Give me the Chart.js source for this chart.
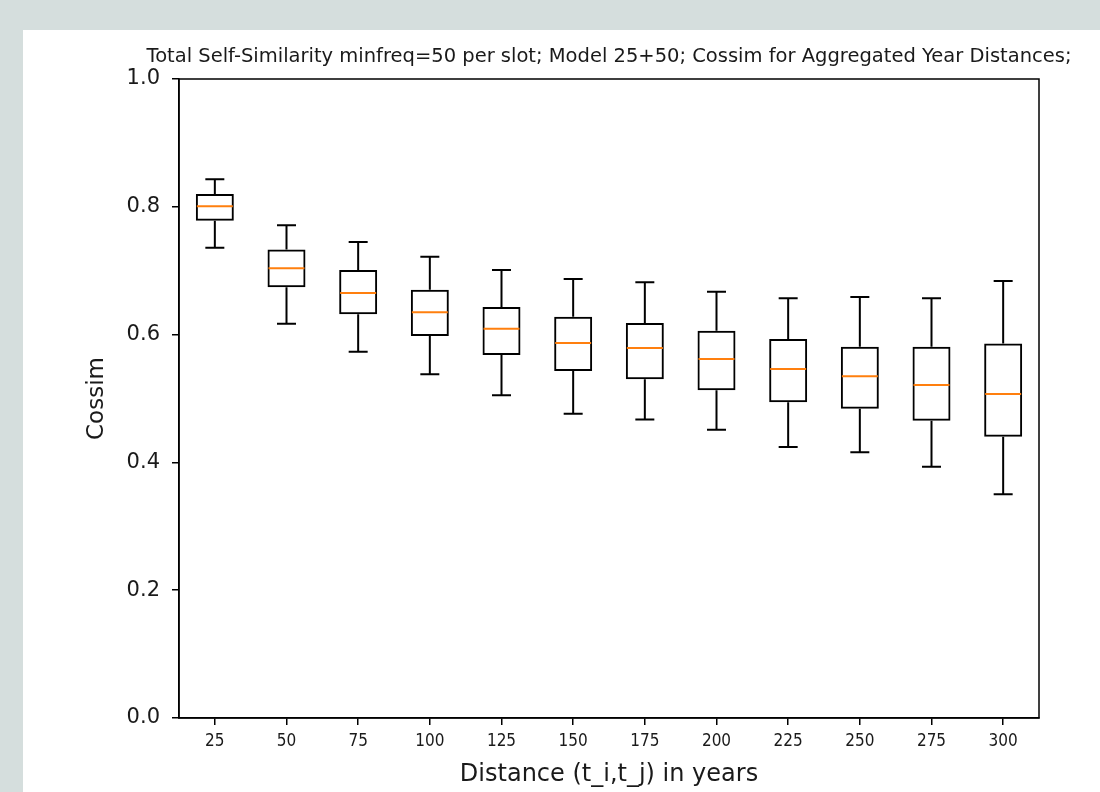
<!DOCTYPE html>
<html>
<head>
<meta charset="utf-8">
<script src="https://cdn.jsdelivr.net/npm/chart.js@4/dist/chart.umd.min.js"></script>
<style>
  html, body { margin: 0; padding: 0; background: #d5dedd; width: 1100px; height: 792px; overflow: hidden; }
  #panel { position: absolute; left: 23px; top: 30px; width: 1077px; height: 762px; background: #fff; }
  canvas { display: block; }
</style>
</head>
<body>
<div id="panel"><canvas id="chart" width="1077" height="762"></canvas></div>
<script>
// ---- data ----
const distances = ["25", "50", "75", "100", "125", "150", "175", "200", "225", "250", "275", "300"];
const whiskerHigh = [0.843, 0.771, 0.745, 0.722, 0.701, 0.687, 0.682, 0.667, 0.657, 0.659, 0.657, 0.684];
const q3 = [0.820, 0.733, 0.701, 0.670, 0.643, 0.628, 0.618, 0.606, 0.593, 0.581, 0.581, 0.586];
const medians = [0.801, 0.704, 0.665, 0.635, 0.609, 0.587, 0.579, 0.562, 0.546, 0.535, 0.521, 0.507];
const q1 = [0.778, 0.674, 0.632, 0.598, 0.568, 0.543, 0.530, 0.513, 0.494, 0.484, 0.465, 0.440];
const whiskerLow = [0.736, 0.617, 0.573, 0.538, 0.505, 0.476, 0.467, 0.451, 0.424, 0.416, 0.393, 0.350];
const yTicks = [0, 0.2, 0.4, 0.6, 0.8, 1.0];

const titleText = "Total Self-Similarity minfreq=50 per slot; Model 25+50; Cossim for Aggregated Year Distances;";
const textColor = "#1a1a1a";

// whiskers, caps, medians, frame and title drawn on top of the box bars
const boxExtras = {
  id: "boxExtras",
  afterDatasetsDraw(chart) {
    const ctx = chart.ctx;
    const xs = chart.scales.x;
    const ys = chart.scales.y;
    const meta = chart.getDatasetMeta(0);
    ctx.save();
    ctx.lineWidth = 2;
    distances.forEach((_, i) => {
      const x = xs.getPixelForValue(i);
      const half = meta.data[i].width / 2;
      const cap = half / 2;
      ctx.strokeStyle = "#000";
      ctx.beginPath();
      ctx.moveTo(x, ys.getPixelForValue(q3[i]));
      ctx.lineTo(x, ys.getPixelForValue(whiskerHigh[i]));
      ctx.moveTo(x - cap, ys.getPixelForValue(whiskerHigh[i]));
      ctx.lineTo(x + cap, ys.getPixelForValue(whiskerHigh[i]));
      ctx.moveTo(x, ys.getPixelForValue(q1[i]));
      ctx.lineTo(x, ys.getPixelForValue(whiskerLow[i]));
      ctx.moveTo(x - cap, ys.getPixelForValue(whiskerLow[i]));
      ctx.lineTo(x + cap, ys.getPixelForValue(whiskerLow[i]));
      ctx.stroke();
      ctx.strokeStyle = "#ff7f0e";
      ctx.beginPath();
      ctx.moveTo(x - half + 1, ys.getPixelForValue(medians[i]));
      ctx.lineTo(x + half - 1, ys.getPixelForValue(medians[i]));
      ctx.stroke();
    });
    ctx.restore();
  },
  afterDraw(chart) {
    const ctx = chart.ctx;
    const a = chart.chartArea;
    ctx.save();
    ctx.strokeStyle = "#000";
    ctx.lineWidth = 1.5;
    ctx.strokeRect(a.left, a.top, a.right - a.left, a.bottom - a.top);
    ctx.fillStyle = textColor;
    ctx.font = "19.5px 'DejaVu Sans'";
    ctx.textAlign = "center";
    ctx.textBaseline = "alphabetic";
    ctx.fillText(titleText, (a.left + a.right) / 2, 32);
    ctx.restore();
  }
};

new Chart(document.getElementById("chart"), {
  type: "bar",
  data: {
    labels: distances,
    datasets: [{
      data: q1.map((v, i) => [v, q3[i]]),
      backgroundColor: "rgba(0,0,0,0)",
      borderColor: "#000",
      borderWidth: 2,
      borderSkipped: false,
      barPercentage: 0.53,
      categoryPercentage: 1
    }]
  },
  options: {
    responsive: false,
    animation: false,
    layout: { padding: { top: 49, right: 61, left: 0, bottom: 0 } },
    plugins: {
      legend: { display: false },
      tooltip: { enabled: false },
      title: { display: false }
    },
    scales: {
      x: {
        grid: { offset: false, drawOnChartArea: false, drawTicks: true, tickLength: 7, color: "#000", lineWidth: 1.5 },
        border: { display: true, color: "#000", width: 1.5 },
        ticks: {
          color: textColor,
          padding: 6,
          maxRotation: 0,
          font: { family: "'DejaVu Sans Condensed', sans-serif", size: 17 }
        },
        title: {
          display: true,
          text: "Distance (t_i,t_j) in years",
          color: textColor,
          font: { family: "'DejaVu Sans'", size: 24 },
          padding: { top: 0, bottom: 3 }
        },
        afterFit(scale) { scale.height = 74; }
      },
      y: {
        min: 0,
        max: 1,
        afterBuildTicks(scale) { scale.ticks = yTicks.map(v => ({ value: v })); },
        grid: { drawOnChartArea: false, drawTicks: true, tickLength: 7, color: "#000", lineWidth: 1.5 },
        border: { display: true, color: "#000", width: 1.5 },
        ticks: {
          color: textColor,
          padding: 12,
          font: { family: "'DejaVu Sans'", size: 21 },
          callback: v => Number(v).toFixed(1)
        },
        title: {
          display: true,
          text: "Cossim",
          color: textColor,
          font: { family: "'DejaVu Sans'", size: 23 },
          padding: { top: 60, bottom: 0 }
        },
        afterFit(scale) { scale.width = 156; }
      }
    }
  },
  plugins: [boxExtras]
});
</script>
</body>
</html>
